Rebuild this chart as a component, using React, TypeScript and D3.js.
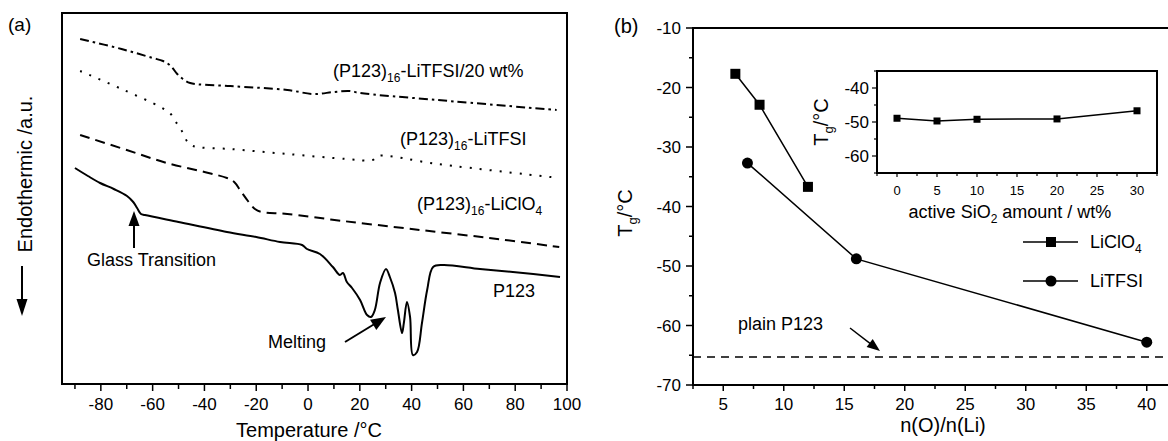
import React from "react";
import * as d3 from "d3";

// ---------- Panel (a): DSC curves (temperature °C, heat flow a.u.) ----------
const tempMajorTicks = [-80, -60, -40, -20, 0, 20, 40, 60, 80, 100];
const tempMinorTicks = [-90, -70, -50, -30, -10, 10, 30, 50, 70, 90];

const curveLiTFSI20: [number, number][] = [
  [-88, 34.5], [-72, 33.5], [-60, 32.6], [-56, 32.3], [-53, 31.8], [-50.5, 31.0], [-48.3, 30.5],
  [-45.5, 30.1], [-30, 29.8], [-8, 29.4], [2, 29.0], [10, 29.2], [16, 29.3], [20, 29.1],
  [50, 28.4], [96, 27.4],
];

const curveLiTFSI: [number, number][] = [
  [-88, 31.3], [-72, 29.5], [-57, 27.7], [-53, 27.0], [-50.5, 26.0], [-48.5, 25.2], [-46.5, 24.2],
  [-44.5, 23.8], [-30, 23.5], [-8, 23.0], [15, 22.5], [25, 22.4], [27, 22.8], [50, 22.0], [97, 20.6],
];

const curveLiClO4: [number, number][] = [
  [-88, 24.9], [-70, 23.4], [-54.5, 22.1], [-40, 21.2], [-31.3, 20.6], [-28.5, 20.2], [-26, 19.3],
  [-23.2, 18.3], [-20.5, 17.5], [-18, 17.2], [-8, 17.0], [13.5, 16.3], [40, 15.5], [70, 14.6], [97, 13.7],
];

const curveP123: [number, number][] = [
  [-90, 21.6], [-85, 20.8], [-80.3, 20.1], [-75, 19.5], [-69.9, 18.8], [-67.5, 18.2], [-66, 17.6],
  [-64.5, 17.0], [-63, 16.9], [-50, 16.2], [-31.3, 15.2], [-20, 14.7], [-10.8, 14.2], [-2.3, 13.9],
  [-0.4, 13.5], [4.6, 13.0], [9.6, 11.7], [12.3, 10.9], [13.5, 11.1], [15.0, 10.2], [17.0, 9.6],
  [20.1, 8.4], [22.8, 6.9], [24.3, 6.7], [25.8, 7.4], [27.8, 10.1], [30.1, 11.5], [31.6, 10.7],
  [33.6, 9.1], [34.7, 7.4], [36.3, 5.1], [37.0, 6.1], [38.2, 8.2], [39.4, 6.7], [40.5, 2.9],
  [42.1, 3.2], [44.0, 6.1], [46.0, 9.4], [48.3, 11.7], [52.1, 11.9], [66.4, 11.5], [79.1, 11.2],
  [97.3, 10.7],
];

// ---------- Panel (b): Tg vs n(O)/n(Li) ----------
const ratioMajorTicks = [5, 10, 15, 20, 25, 30, 35, 40];
const ratioMinorTicks = [2.5, 7.5, 12.5, 17.5, 22.5, 27.5, 32.5, 37.5, 42.5];
const tgMajorTicks = [-70, -60, -50, -40, -30, -20, -10];
const tgMinorTicks = [-65, -55, -45, -35, -25, -15];

const liclo4Ratio = [6, 8, 12];
const liclo4Tg = [-17.7, -22.9, -36.7];
const litfsiRatio = [7, 16, 40];
const litfsiTg = [-32.7, -48.8, -62.8];
const plainP123Tg = -65.3;

// ---------- Inset: Tg vs active SiO2 amount ----------
const sio2Amount = [0, 5, 10, 20, 30];
const sio2Tg = [-48.9, -49.7, -49.2, -49.1, -46.7];
const insetXMajorTicks = [0, 5, 10, 15, 20, 25, 30];
const insetXMinorTicks = [-2.5, 2.5, 7.5, 12.5, 17.5, 22.5, 27.5, 32.5];
const insetYMajorTicks = [-60, -50, -40];
const insetYMinorTicks = [-65, -55, -45, -35];

const FONT = "'Liberation Sans', Arial, Helvetica, sans-serif";

function arrowHead(x1: number, y1: number, x2: number, y2: number, len = 14, half = 5.5) {
  const a = Math.atan2(y2 - y1, x2 - x1);
  const bx = x2 - len * Math.cos(a);
  const by = y2 - len * Math.sin(a);
  const px = -Math.sin(a) * half;
  const py = Math.cos(a) * half;
  return `${x2},${y2} ${bx + px},${by + py} ${bx - px},${by - py}`;
}

function Arrow({ x1, y1, x2, y2, len = 14, half = 5.5, sw = 2 }: any) {
  const a = Math.atan2(y2 - y1, x2 - x1);
  const ex = x2 - (len - 2) * Math.cos(a);
  const ey = y2 - (len - 2) * Math.sin(a);
  return (
    <g>
      <line x1={x1} y1={y1} x2={ex} y2={ey} stroke="#000" strokeWidth={sw} />
      <polygon points={arrowHead(x1, y1, x2, y2, len, half)} fill="#000" />
    </g>
  );
}

export default function App() {
  // Panel (a) scales
  const xa = d3.scaleLinear().domain([-95, 100]).range([62, 567]);
  const ya = d3.scaleLinear().domain([0, 37.1]).range([384, 13]);
  const lineA = d3
    .line<[number, number]>()
    .x((d) => xa(d[0]))
    .y((d) => ya(d[1]))
    .curve(d3.curveCatmullRom.alpha(0.5));

  // Panel (b) scales
  const xb = d3.scaleLinear().domain([2.5, 42.5]).range([693, 1177]);
  const yb = d3.scaleLinear().domain([-70, -10]).range([385, 28]);
  const lineB = d3
    .line<number>()
    .x((_, i) => 0)
    .y(() => 0);

  const liclo4Pts = liclo4Ratio.map((r, i) => [xb(r), yb(liclo4Tg[i])] as [number, number]);
  const litfsiPts = litfsiRatio.map((r, i) => [xb(r), yb(litfsiTg[i])] as [number, number]);
  const straight = d3.line<[number, number]>();

  // Inset scales
  const xi = d3.scaleLinear().domain([-2.5, 32.5]).range([877, 1157]);
  const yi = d3.scaleLinear().domain([-65, -35]).range([173, 71]);
  const insetPts = sio2Amount.map((a, i) => [xi(a), yi(sio2Tg[i])] as [number, number]);

  void lineB;

  return (
    <svg
      width={1168}
      height={441}
      style={{ position: "absolute", left: 0, top: 0, background: "#fff" }}
      fontFamily={FONT}
    >
      <rect x={0} y={0} width={1168} height={441} fill="#fff" />

      {/* ================= Panel (a) ================= */}
      <text x={8} y={31} fontSize={19}>(a)</text>
      <rect x={62} y={13} width={505} height={371} fill="none" stroke="#000" strokeWidth={2} />
      {tempMajorTicks.map((t) => (
        <g key={"ta" + t}>
          <line x1={xa(t)} x2={xa(t)} y1={384} y2={391} stroke="#000" strokeWidth={1.5} />
          <text x={xa(t)} y={410} fontSize={17} textAnchor="middle">{t}</text>
        </g>
      ))}
      {tempMinorTicks.map((t) => (
        <line key={"tam" + t} x1={xa(t)} x2={xa(t)} y1={384} y2={389} stroke="#000" strokeWidth={1.5} />
      ))}
      <text x={309} y={437} fontSize={20} textAnchor="middle">Temperature /°C</text>
      <text transform="translate(32,174) rotate(-90)" fontSize={20} textAnchor="middle">
        Endothermic /a.u.
      </text>
      <Arrow x1={22} y1={266} x2={22} y2={316} len={17} half={5.5} sw={2} />

      <path d={lineA(curveLiTFSI20) || ""} fill="none" stroke="#000" strokeWidth={2} strokeDasharray="9,4,2.5,4" />
      <path d={lineA(curveLiTFSI) || ""} fill="none" stroke="#000" strokeWidth={2} strokeDasharray="2,8" />
      <path d={lineA(curveLiClO4) || ""} fill="none" stroke="#000" strokeWidth={2} strokeDasharray="10,6" />
      <path d={lineA(curveP123) || ""} fill="none" stroke="#000" strokeWidth={2} />

      <text x={333} y={77} fontSize={18}>
        (P123)<tspan dy={5} fontSize={12}>16</tspan><tspan dy={-5}>-LiTFSI/20 wt%</tspan>
      </text>
      <text x={400} y={145} fontSize={18}>
        (P123)<tspan dy={5} fontSize={12}>16</tspan><tspan dy={-5}>-LiTFSI</tspan>
      </text>
      <text x={417} y={210} fontSize={18}>
        (P123)<tspan dy={5} fontSize={12}>16</tspan><tspan dy={-5}>-LiClO</tspan><tspan dy={5} fontSize={12}>4</tspan>
      </text>
      <text x={493} y={297} fontSize={18}>P123</text>
      <text x={87} y={266} fontSize={18}>Glass Transition</text>
      <Arrow x1={134} y1={248} x2={134} y2={211} len={15} half={5.5} sw={2} />
      <text x={268} y={348} fontSize={18}>Melting</text>
      <Arrow x1={345} y1={342} x2={386} y2={317} len={15} half={6} sw={2} />

      {/* ================= Panel (b) ================= */}
      <text x={614} y={33} fontSize={20}>(b)</text>
      <rect x={693} y={28} width={484} height={357} fill="none" stroke="#000" strokeWidth={2} />
      {tgMajorTicks.map((t) => (
        <g key={"tb" + t}>
          <line x1={686} x2={693} y1={yb(t)} y2={yb(t)} stroke="#000" strokeWidth={1.5} />
          <text x={681} y={yb(t) + 6} fontSize={17} textAnchor="end">{t}</text>
        </g>
      ))}
      {tgMinorTicks.map((t) => (
        <line key={"tbm" + t} x1={689} x2={693} y1={yb(t)} y2={yb(t)} stroke="#000" strokeWidth={1.5} />
      ))}
      {ratioMajorTicks.map((t) => (
        <g key={"rb" + t}>
          <line x1={xb(t)} x2={xb(t)} y1={385} y2={391} stroke="#000" strokeWidth={1.5} />
          <text x={xb(t)} y={410} fontSize={17} textAnchor="middle">{t}</text>
        </g>
      ))}
      {ratioMinorTicks.map((t) => (
        <line key={"rbm" + t} x1={xb(t)} x2={xb(t)} y1={385} y2={389} stroke="#000" strokeWidth={1.5} />
      ))}
      <text x={943} y={432} fontSize={20} textAnchor="middle">n(O)/n(Li)</text>
      <text transform="translate(632,213) rotate(-90)" fontSize={20} textAnchor="middle">
        T<tspan dy={5} fontSize={13}>g</tspan><tspan dy={-5}>/°C</tspan>
      </text>

      <line x1={693} x2={1177} y1={yb(plainP123Tg)} y2={yb(plainP123Tg)} stroke="#000" strokeWidth={1.5} strokeDasharray="8,6" />
      <text x={738} y={330} fontSize={18}>plain P123</text>
      <Arrow x1={850} y1={328} x2={880} y2={351} len={13} half={5} sw={1.5} />

      <path d={straight(liclo4Pts) || ""} fill="none" stroke="#000" strokeWidth={1.5} />
      <path d={straight(litfsiPts) || ""} fill="none" stroke="#000" strokeWidth={1.5} />
      {liclo4Pts.map((p, i) => (
        <rect key={"sq" + i} x={p[0] - 5} y={p[1] - 5} width={10} height={10} fill="#000" />
      ))}
      {litfsiPts.map((p, i) => (
        <circle key={"ci" + i} cx={p[0]} cy={p[1]} r={5.5} fill="#000" />
      ))}

      {/* legend */}
      <line x1={1023} x2={1078} y1={242} y2={242} stroke="#000" strokeWidth={1.5} />
      <rect x={1046} y={237} width={10} height={10} fill="#000" />
      <text x={1090} y={248} fontSize={18}>
        LiClO<tspan dy={5} fontSize={12}>4</tspan>
      </text>
      <line x1={1023} x2={1078} y1={281} y2={281} stroke="#000" strokeWidth={1.5} />
      <circle cx={1051} cy={281} r={5.5} fill="#000" />
      <text x={1090} y={287} fontSize={18}>LiTFSI</text>

      {/* ================= Inset ================= */}
      <rect x={877} y={71} width={280} height={102} fill="#fff" stroke="#000" strokeWidth={2} />
      {insetYMajorTicks.map((t) => (
        <g key={"iy" + t}>
          <line x1={872} x2={877} y1={yi(t)} y2={yi(t)} stroke="#000" strokeWidth={1.2} />
          <text x={869} y={yi(t) + 6} fontSize={17} textAnchor="end">{t}</text>
        </g>
      ))}
      {insetYMinorTicks.map((t) => (
        <line key={"iym" + t} x1={874} x2={877} y1={yi(t)} y2={yi(t)} stroke="#000" strokeWidth={1.2} />
      ))}
      {insetXMajorTicks.map((t) => (
        <g key={"ix" + t}>
          <line x1={xi(t)} x2={xi(t)} y1={173} y2={177} stroke="#000" strokeWidth={1.2} />
          <text x={xi(t)} y={195} fontSize={13} textAnchor="middle">{t}</text>
        </g>
      ))}
      {insetXMinorTicks.map((t) => (
        <line key={"ixm" + t} x1={xi(t)} x2={xi(t)} y1={173} y2={176} stroke="#000" strokeWidth={1.2} />
      ))}
      <text x={1010} y={218} fontSize={18} textAnchor="middle">
        active SiO<tspan dy={5} fontSize={12}>2</tspan><tspan dy={-5}>{"  amount / wt%"}</tspan>
      </text>
      <text transform="translate(828,122) rotate(-90)" fontSize={20} textAnchor="middle">
        T<tspan dy={5} fontSize={13}>g</tspan><tspan dy={-5}>/°C</tspan>
      </text>
      <path d={straight(insetPts) || ""} fill="none" stroke="#000" strokeWidth={1.5} />
      {insetPts.map((p, i) => (
        <rect key={"isq" + i} x={p[0] - 3.5} y={p[1] - 3.5} width={7} height={7} fill="#000" />
      ))}
    </svg>
  );
}
